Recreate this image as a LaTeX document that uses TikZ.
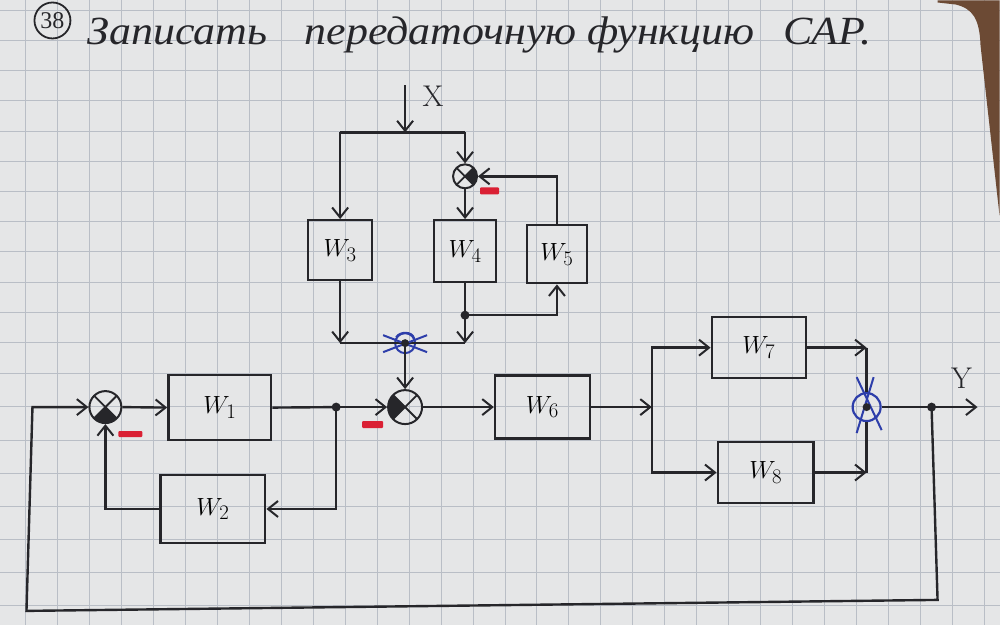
\documentclass[tikz,border=0pt]{standalone}
\usepackage{fontspec}
\usepackage{graphicx}
\newfontfamily\hand{Liberation Serif}
\usetikzlibrary{arrows.meta,calc}
\definecolor{paper}{RGB}{229,230,231}
\definecolor{gridc}{RGB}{185,190,198}
\definecolor{ink}{RGB}{38,38,42}
\definecolor{blueink}{RGB}{45,62,170}
\definecolor{redink}{RGB}{218,32,52}
\definecolor{tablec}{RGB}{108,74,52}
\begin{document}
\begin{tikzpicture}[x=1pt,y=-1pt,
  line width=2.4pt,
  ln/.style={draw=ink, line width=2.4pt},
  arr/.style={ln, -{Straight Barb[length=10pt,width=16pt,line width=2pt]}},
  blk/.style={draw=ink, line width=2.4pt, fill=none, inner sep=0pt, font=\fontsize{30}{30}\selectfont},
  sumj/.style={circle, draw=ink, line width=2pt, inner sep=0pt, minimum size=#1,
    path picture={\draw[ink, line width=1.8pt]
      (path picture bounding box.north west) -- (path picture bounding box.south east)
      (path picture bounding box.south west) -- (path picture bounding box.north east);}},
  minus/.style={fill=redink, rounded corners=1pt},
  lbl/.style={font=\fontsize{30}{30}\selectfont, text=ink},
  gridl/.style={draw=gridc, line width=1pt}
]
% paper and grid
\fill[paper] (0,0) rectangle (1000,625);
\foreach \gx in {25,57,89,121,153,185,217,249,281,313,345,377,409,441,473,505,537,569,601,633,665,697,729,761,793,825,857,889,921,953,985}
  {\draw[gridl] (\gx,0) -- (\gx,625);}
\foreach \gy in {10,40,70,100,131,161,191,221,251,282,312,342,373,406,440,473,507,540,573,606}
  {\draw[gridl] (0,\gy) -- (1000,\gy);}
\fill[tablec] (938,0) -- (1000,0) -- (1000,215) -- (981,45) .. controls (980,18) and (973,8) .. (956,4) -- (938,2) -- cycle;
\useasboundingbox (0,0) rectangle (1000,625);

% title
\node[circle, draw=ink, line width=1.8pt, minimum size=36pt, inner sep=0pt,
  font=\hand\fontsize{24}{24}\selectfont, text=ink] (num) at (52,20) {38};
\node[anchor=base west, inner sep=0pt, text=ink,
  font=\hand\itshape\fontsize{40}{40}\selectfont] (title) at (86,44)
  {\scalebox{1.1}[1]{Записать\hspace{24pt} передаточную функцию\hspace{17pt} САР.}};

% blocks
\node[blk, minimum width=103pt, minimum height=65pt] (W1) at (219.5,407.5) {$W_1$};
\node[blk, minimum width=105pt, minimum height=68pt] (W2) at (212.5,509) {$W_2$};
\node[blk, minimum width=64pt, minimum height=60pt] (W3) at (340,250) {$W_3$};
\node[blk, minimum width=62pt, minimum height=62pt] (W4) at (465,251) {$W_4$};
\node[blk, minimum width=60pt, minimum height=58pt] (W5) at (557,254) {$W_5$};
\node[blk, minimum width=95pt, minimum height=63pt] (W6) at (542.5,407) {$W_6$};
\node[blk, minimum width=94pt, minimum height=61pt] (W7) at (759,347.5) {$W_7$};
\node[blk, minimum width=96pt, minimum height=61pt] (W8) at (766,472.5) {$W_8$};

% summing junctions
\node[sumj=32pt] (S1) at (105,407) {};
\node[sumj=34pt] (S2) at (405,407) {};
\node[sumj=24pt] (S4) at (465,176) {};
\node[circle, draw=blueink, line width=2.2pt, minimum size=28pt, inner sep=0pt] (S8) at (867,407) {};
\node[circle, draw=blueink, line width=2pt, minimum size=20pt, inner sep=0pt] (J3) at (405,343) {};

% filled sectors (negative inputs)
\fill[ink] (S1.center) -- ++(45:16) arc[start angle=45, end angle=135, radius=16] -- cycle;
\fill[ink] (S2.center) -- ++(135:17) arc[start angle=135, end angle=225, radius=17] -- cycle;
\fill[ink] (S4.center) -- ++(-45:12) arc[start angle=-45, end angle=45, radius=12] -- cycle;

% input X
\coordinate (xin) at (405,85);
\coordinate (xs) at (405,132);
\node[lbl] (X) at (433,96) {X};
\draw[arr] (xin) -- (xs);
\draw[ln] (W3.north |- xs) -- (xs -| S4.north);
\draw[arr] (W3.north |- xs) -- (W3.north);
\draw[arr] (xs -| S4.north) -- (S4.north);
\draw[arr] (S4.south) -- (W4.north);
\draw[arr] (W5.north) |- (S4.east);

% W3 / W4 outputs
\coordinate (d4) at (465,315);
\coordinate (j3l) at (W3.south |- J3.center);
\coordinate (j3r) at (W4.south |- J3.center);
\draw[ln] (W4.south) -- (d4);
\draw[arr] (d4) -| (W5.south);
\draw[arr] (d4) -- (j3r);
\draw[arr] (W3.south) -- (j3l);
\draw[ln] (j3l) -- (j3r);
\draw[arr] (J3.center) -- (S2.north);
\fill[ink] (d4) circle (4.5);

% main chain
\coordinate (d1) at (336,407);
\draw[arr] (S1.east) -- (W1.west);
\draw[ln] (W1.east) -- (d1);
\draw[arr] (d1) -- (S2.west);
\draw[arr] (d1) |- (W2.east);
\draw[arr] (W2.west) -| (S1.south);
\fill[ink] (d1) circle (4.5);
\draw[arr] (S2.east) -- (W6.west);
\coordinate (br) at (652,407);
\draw[arr] (W6.east) -- (br);
\draw[arr] (br) |- (W7.west);
\draw[arr] (br) |- (W8.west);
\coordinate (c7) at (W7.east -| S8.north);
\coordinate (c8) at (W8.east -| S8.south);
\draw[arr] (W7.east) -- (c7);
\draw[ln] (c7) -- (S8.north);
\draw[arr] (W8.east) -- (c8);
\draw[ln] (c8) -- (S8.south);

% output and main feedback
\coordinate (yd) at (932,407);
\coordinate (yout) at (978,407);
\node[lbl] (Y) at (962,378) {Y};
\draw[ln] (S8.east) -- (yd);
\draw[arr] (yd) -- (yout);
\coordinate (fbR) at (938,600);
\coordinate (fbL) at (26,611);
\coordinate (fbT) at (32,407);
\draw[arr] (yd) -- (fbR) -- (fbL) -- (fbT) -- (S1.west);
\fill[ink] (yd) circle (4.5);

% blue scribbles (crossed-out junctions)
\draw[blueink, line width=2pt] (857,377) -- (882,430) (874,377) -- (857,433);
\fill[ink] (S8.center) circle (4);
\draw[blueink, line width=2pt] (383,335) -- (427,352) (383,352) -- (427,335)
  (396,337) .. controls (400,331) and (412,331) .. (414,338);
\fill[ink] (J3.center) circle (4);

% red minus signs
\fill[minus] (118,431) rectangle (142,437);
\fill[minus] (362,421) rectangle (383,428);
\fill[minus] (480,187) rectangle (499,194);
\end{tikzpicture}
\end{document}
